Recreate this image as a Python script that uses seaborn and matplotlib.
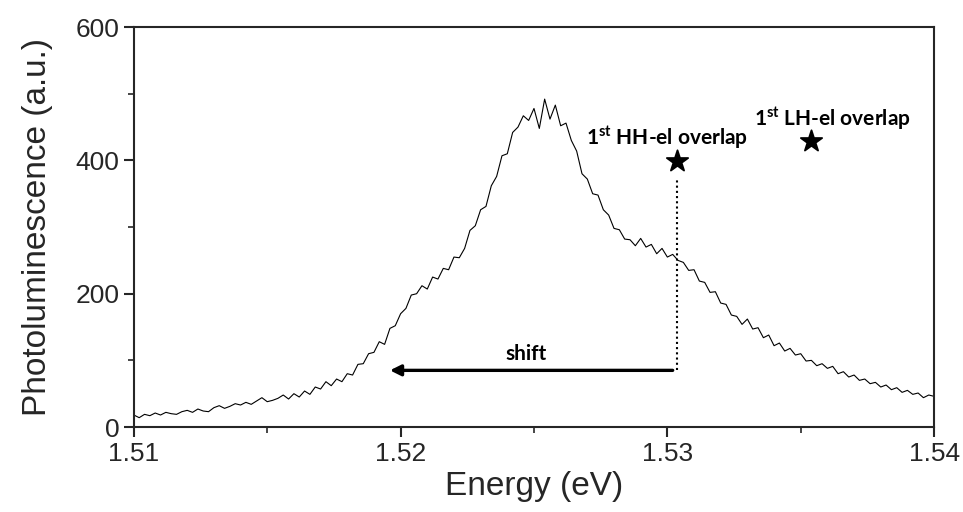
import matplotlib
matplotlib.use('Agg')
import matplotlib.pyplot as plt
import seaborn as sns
from matplotlib.ticker import MultipleLocator, FormatStrFormatter

# PL spectrum (energy in eV, intensity in a.u.)
energy = [
    1.5100, 1.5102, 1.5104, 1.5106, 1.5108, 1.5110, 1.5112, 1.5114, 1.5116, 1.5118,
    1.5120, 1.5122, 1.5124, 1.5126, 1.5128, 1.5130, 1.5132, 1.5134, 1.5136, 1.5138,
    1.5140, 1.5142, 1.5144, 1.5146, 1.5148, 1.5150, 1.5152, 1.5154, 1.5156, 1.5158,
    1.5160, 1.5162, 1.5164, 1.5166, 1.5168, 1.5170, 1.5172, 1.5174, 1.5176, 1.5178,
    1.5180, 1.5182, 1.5184, 1.5186, 1.5188, 1.5190, 1.5192, 1.5194, 1.5196, 1.5198,
    1.5200, 1.5202, 1.5204, 1.5206, 1.5208, 1.5210, 1.5212, 1.5214, 1.5216, 1.5218,
    1.5220, 1.5222, 1.5224, 1.5226, 1.5228, 1.5230, 1.5232, 1.5234, 1.5236, 1.5238,
    1.5240, 1.5242, 1.5244, 1.5246, 1.5248, 1.5250, 1.5252, 1.5254, 1.5256, 1.5258,
    1.5260, 1.5262, 1.5264, 1.5266, 1.5268, 1.5270, 1.5272, 1.5274, 1.5276, 1.5278,
    1.5280, 1.5282, 1.5284, 1.5286, 1.5288, 1.5290, 1.5292, 1.5294, 1.5296, 1.5298,
    1.5300, 1.5302, 1.5304, 1.5306, 1.5308, 1.5310, 1.5312, 1.5314, 1.5316, 1.5318,
    1.5320, 1.5322, 1.5324, 1.5326, 1.5328, 1.5330, 1.5332, 1.5334, 1.5336, 1.5338,
    1.5340, 1.5342, 1.5344, 1.5346, 1.5348, 1.5350, 1.5352, 1.5354, 1.5356, 1.5358,
    1.5360, 1.5362, 1.5364, 1.5366, 1.5368, 1.5370, 1.5372, 1.5374, 1.5376, 1.5378,
    1.5380, 1.5382, 1.5384, 1.5386, 1.5388, 1.5390, 1.5392, 1.5394, 1.5396, 1.5398,
    1.5400,
]
intensity = [
    18, 14, 19, 17, 21, 18, 22, 20, 19, 23,
    25, 22, 27, 24, 23, 29, 32, 28, 31, 35,
    33, 37, 34, 39, 44, 38, 40, 43, 48, 42,
    50, 45, 54, 49, 60, 57, 68, 62, 72,
    68, 80, 78, 94, 95, 110, 112, 128, 124, 148,
    152, 170, 178, 198, 200, 212, 207, 225, 222, 238,
    236, 255, 254, 268, 295, 302, 326, 331, 362, 376,
    407, 410, 442, 450, 467, 460, 478, 448, 492, 462,
    483, 452, 456, 430, 414, 380, 372, 350, 348, 326,
    318, 298, 296, 282, 281, 272, 283, 270, 274, 260,
    268, 255, 259, 250, 247, 235, 236, 219, 217, 202,
    203, 186, 184, 168, 166, 154, 162, 147, 149, 134,
    138, 122, 126, 114, 118, 108, 110, 99, 100, 92,
    95, 88, 91, 80, 83, 75, 78, 70, 72, 65,
    67, 60, 63, 56, 59, 52, 55, 49, 51, 44,
    48, 46,
]

# annotation positions
hh_star = (1.53036, 399)
lh_star = (1.5354, 429)
shift_y = 85
shift_from = 1.5302
shift_to = 1.5196

sns.set_style('ticks')
plt.rcParams['font.family'] = ['Liberation Sans', 'DejaVu Sans']
plt.rcParams['mathtext.fontset'] = 'custom'
plt.rcParams['mathtext.rm'] = 'Lato:bold'
plt.rcParams['mathtext.bf'] = 'Lato:bold'

fig, ax = plt.subplots(figsize=(9.63, 5.12), dpi=100)
fig.subplots_adjust(left=0.139, right=0.970, top=0.947, bottom=0.166)

sns.lineplot(x=energy, y=intensity, ax=ax, color='black', linewidth=0.8,
             estimator=None, sort=False)

# stars marking the overlaps
sns.scatterplot(x=[hh_star[0], lh_star[0]], y=[hh_star[1], lh_star[1]], ax=ax,
                marker='*', s=260, color='black', edgecolor='black', zorder=5)

# dotted guide from the HH star down to the arrow
ax.plot([hh_star[0], hh_star[0]], [shift_y, hh_star[1] - 25], color='black',
        linestyle=(0, (1, 1.5)), linewidth=1.5)

ax.annotate('', xy=(shift_to, shift_y), xytext=(shift_from, shift_y),
            arrowprops=dict(arrowstyle='-|>', color='black', lw=2.4,
                            mutation_scale=16, shrinkA=0, shrinkB=0))

txt = dict(family='Lato', weight='bold', fontsize=15, color='black')
ax.text(1.5247, 109, 'shift', ha='center', va='center', **txt)
ax.text(1.5300, 435, r'1$^{\mathrm{st}}$ HH-el overlap', ha='center', va='center', **txt)
ax.text(1.5362, 463, r'1$^{\mathrm{st}}$ LH-el overlap', ha='center', va='center', **txt)

ax.set_xlim(1.51, 1.54)
ax.set_ylim(0, 600)
ax.xaxis.set_major_locator(MultipleLocator(0.01))
ax.xaxis.set_minor_locator(MultipleLocator(0.005))
ax.xaxis.set_major_formatter(FormatStrFormatter('%.2f'))
ax.yaxis.set_major_locator(MultipleLocator(200))
ax.yaxis.set_minor_locator(MultipleLocator(100))

ax.tick_params(which='major', direction='out', length=7, width=1.5, labelsize=19,
               top=False, right=False)
ax.tick_params(which='minor', direction='out', length=4, width=1.2,
               top=False, right=False)
for s in ax.spines.values():
    s.set_linewidth(1.5)
    s.set_visible(True)

ax.set_xlabel('Energy (eV)', fontsize=24, labelpad=4)
ax.set_ylabel('Photoluminescence (a.u.)', fontsize=24, labelpad=16)

fig.savefig('out.png', dpi=100)
